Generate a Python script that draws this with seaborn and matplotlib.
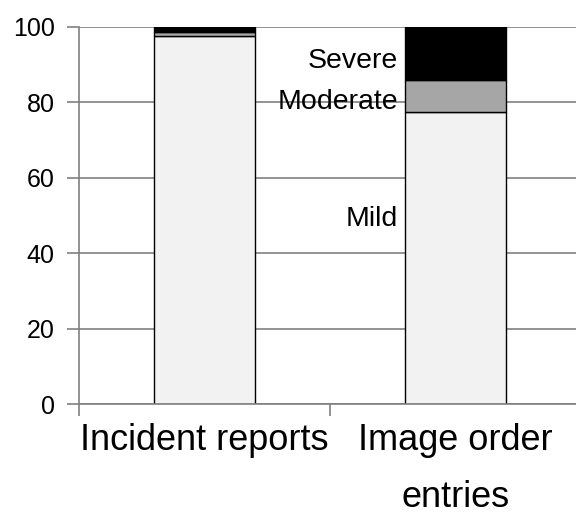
import matplotlib
matplotlib.use("Agg")
import matplotlib.pyplot as plt
from matplotlib.ticker import FixedLocator
import pandas as pd
import seaborn as sns

# data (percent of entries)
categories = ["Incident reports", "Image order\nentries"]
mild = [97.6, 77.5]
moderate = [1.0, 8.5]
severe = [1.4, 14.0]
segment_names = ["Mild", "Moderate", "Severe"]
segment_colors = ["#f2f2f2", "#a6a6a6", "#000000"]
label_y = [49, 80, 91]  # where the segment names sit (data units)

sns.set_theme(style="white")
plt.rcParams["font.family"] = ["Liberation Sans", "DejaVu Sans"]

fig = plt.figure(figsize=(5.76, 5.18), dpi=100)
ax = fig.add_axes([0.137, 0.22, 0.872, 0.728])

bottom = [0.0, 0.0]
for name, vals, col in zip(segment_names, [mild, moderate, severe], segment_colors):
    df = pd.DataFrame({"cat": categories, "val": vals})
    sns.barplot(data=df, x="cat", y="val", ax=ax, color=col, bottom=bottom,
                width=0.4, edgecolor="black", linewidth=1.0, saturation=1)
    bottom = [b + v for b, v in zip(bottom, vals)]

# segment labels to the left of the second bar
for name, yv in zip(segment_names, label_y):
    ax.text(1 - 0.2 - 0.03, yv, name, ha="right", va="center", fontsize=20.5, color="black")

ax.set_ylim(0, 100)
ax.set_xlim(-0.5, 1.5)
ax.set_yticks([0, 20, 40, 60, 80, 100])
ax.yaxis.grid(True, color="#808080", linewidth=1.2)
ax.set_axisbelow(True)
ax.set_xlabel("")
ax.set_ylabel("")

for s in ["top", "right"]:
    ax.spines[s].set_visible(False)
for s in ["left", "bottom"]:
    ax.spines[s].set_color("#808080")
    ax.spines[s].set_linewidth(1.2)

ax.tick_params(axis="y", which="major", left=True, length=8.5, width=1.2,
               color="#808080", labelsize=18, pad=9, labelcolor="black")
ax.tick_params(axis="x", which="major", bottom=False, length=0, labelsize=26,
               pad=14, labelcolor="black")
ax.xaxis.set_minor_locator(FixedLocator([-0.5, 0.5]))
ax.tick_params(axis="x", which="minor", bottom=True, length=8.5, width=1.2,
               color="#808080")
for lbl in ax.get_xticklabels():
    lbl.set_linespacing(1.8)
    lbl.set_va("top")

fig.savefig("out.png", dpi=100)
